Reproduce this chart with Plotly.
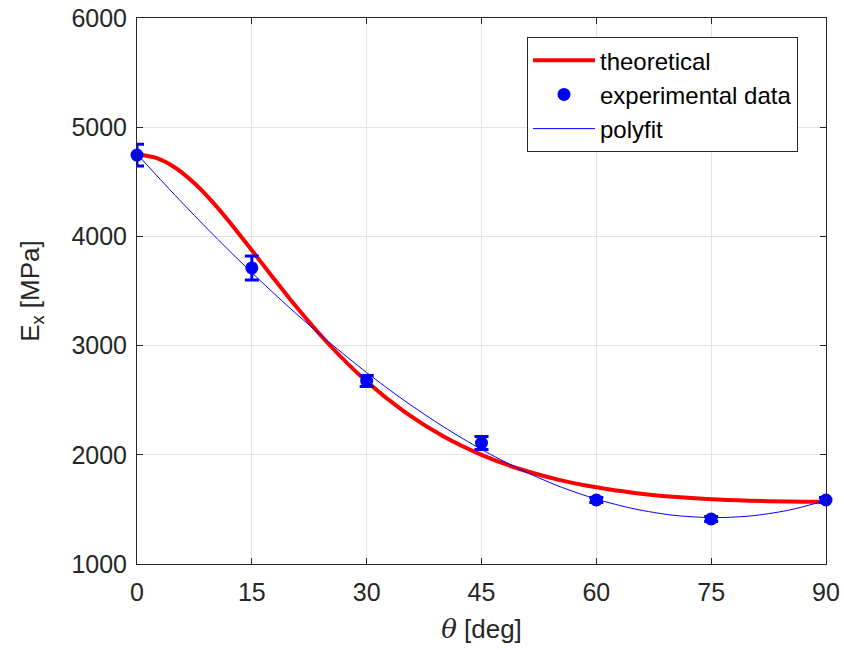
import plotly.graph_objects as go

# experimental data
theta_exp = [0, 15, 30, 45, 60, 75, 90]
Ex_exp = [4745, 3711, 2676, 2108, 1586, 1412, 1586]
Ex_err = [100, 110, 50, 60, 22, 22, 22]

# theoretical curve
theta_theory = [0, 2.5, 5, 7.5, 10, 12.5, 15, 17.5, 20, 25, 30, 35, 40, 45, 50, 55, 60,
                65, 70, 75, 80, 85, 90]
Ex_theory = [4750, 4719, 4629, 4486, 4305, 4096, 3873, 3647, 3425, 3017, 2671, 2391, 2170,
             2000, 1870, 1773, 1702, 1651, 1616, 1593, 1580, 1572, 1570]

# polyfit curve
theta_poly = [0, 5, 10, 15, 20, 25, 30, 35, 40, 45, 50, 55, 60, 65, 70, 75, 80, 85, 90]
Ex_poly = [4754, 4375, 4012, 3668, 3342, 3037, 2753, 2493, 2258, 2049, 1868, 1715, 1594,
           1504, 1447, 1425, 1439, 1491, 1581]

x_ticks = [0, 15, 30, 45, 60, 75, 90]
y_ticks = [1000, 2000, 3000, 4000, 5000, 6000]

font_family = "Liberation Sans, Arial, sans-serif"
dark = "#262626"

fig = go.Figure()
fig.add_trace(go.Scatter(
    x=theta_theory, y=Ex_theory, mode="lines", name="theoretical",
    line=dict(color="#ff0000", width=4, shape="spline", smoothing=0.8),
))
fig.add_trace(go.Scatter(
    x=theta_exp, y=Ex_exp, mode="markers", name="experimental data",
    marker=dict(color="#0000ff", size=13, symbol="circle"),
    error_y=dict(type="data", array=Ex_err, color="#0000ff", thickness=3, width=7),
    cliponaxis=False,
))
fig.add_trace(go.Scatter(
    x=theta_poly, y=Ex_poly, mode="lines", name="polyfit",
    line=dict(color="#0000ff", width=1, shape="spline", smoothing=0.8),
))

axis_common = dict(
    showline=True, linecolor=dark, linewidth=1, mirror="ticks",
    ticks="inside", ticklen=6, tickcolor=dark,
    showgrid=True, gridcolor="#e3e3e3", gridwidth=1,
    zeroline=False, automargin=False,
    tickfont=dict(family=font_family, size=25, color=dark),
)

fig.update_layout(
    width=844, height=650,
    margin=dict(l=137, r=18, t=18, b=86),
    paper_bgcolor="white", plot_bgcolor="white",
    font=dict(family=font_family, color=dark),
    xaxis=dict(
        range=[0, 90], tickvals=x_ticks, ticklabelstandoff=6,
        title=dict(text="<i><span style='font-family:DejaVu Serif, serif'>θ</span></i> [deg]",
                   font=dict(family=font_family, size=26, color=dark), standoff=14),
        **axis_common,
    ),
    yaxis=dict(
        range=[1000, 6000], tickvals=y_ticks, ticklabelstandoff=4,
        title=dict(text="E<sub>x</sub> [MPa]",
                   font=dict(family=font_family, size=26, color=dark), standoff=24),
        **axis_common,
    ),
    legend=dict(
        x=0.566, y=0.965, xanchor="left", yanchor="top",
        bgcolor="white", bordercolor=dark, borderwidth=1,
        font=dict(family=font_family, size=24, color="#000000"),
        itemwidth=62, tracegroupgap=0,
    ),
    showlegend=True,
)

fig.write_html(
    "out.html",
    config={"displayModeBar": False},
    post_script="document.body.style.margin='0';document.body.style.overflow='hidden';",
)
